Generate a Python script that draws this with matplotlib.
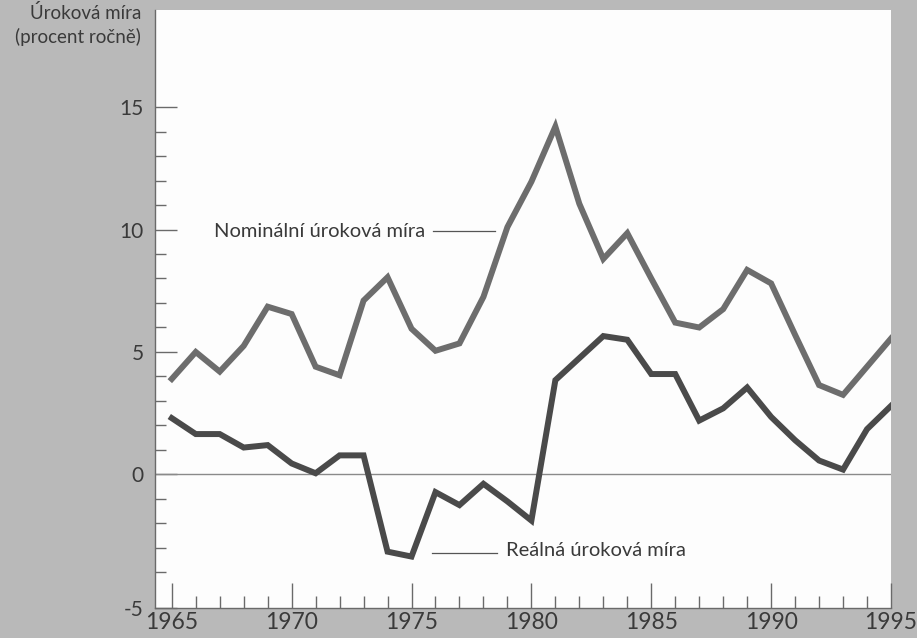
import numpy as np
import matplotlib
matplotlib.use('Agg')
import matplotlib.pyplot as plt
from matplotlib.ticker import MultipleLocator, FixedLocator

plt.rcParams['font.family'] = ['Lato', 'DejaVu Sans']

# roky a úrokové míry (procent ročně)
years = list(range(1965, 1996))
nominal = [3.9, 5.0, 4.2, 5.25, 6.85, 6.55, 4.4, 4.05, 7.1, 8.05,
           5.95, 5.05, 5.35, 7.25, 10.1, 11.95, 14.2, 11.05, 8.8, 9.85,
           8.0, 6.2, 6.0, 6.75, 8.35, 7.8, 5.7, 3.65, 3.25, 4.4, 5.55]
real = [2.3, 1.65, 1.65, 1.1, 1.2, 0.45, 0.05, 0.78, 0.78, -3.15,
        -3.35, -0.72, -1.25, -0.38, -1.1, -1.88, 3.85, 4.75, 5.65, 5.5,
        4.1, 4.1, 2.2, 2.7, 3.55, 2.35, 1.4, 0.57, 0.2, 1.85, 2.8]
ytick_vals = [0, 5, 10, 15]
ytick_labels = ['0', '5', '10', '15']
xtick_years = [1965, 1970, 1975, 1980, 1985, 1990, 1995]

BG = '#b9b9b9'
TXT = '#3a3a3a'
AX = '#6a6a6a'


def main():
    fig = plt.figure(figsize=(9.17, 6.38), dpi=100, facecolor=BG)
    ax = fig.add_axes([155 / 917, 1 - 608 / 638, 736 / 917, 598 / 638])
    ax.set_facecolor('#fdfdfd')

    x = np.array(years)
    ax.plot(x, nominal, color='#6d6d6d', lw=4.3, solid_joinstyle='miter', zorder=3)
    ax.plot(x, real, color='#4a4a4a', lw=4.3, solid_joinstyle='miter', zorder=3)
    ax.axhline(0, color='#8a8a8a', lw=1.0, zorder=2)

    ybot = -5.45
    ax.set_xlim(1964.3, 1995)
    ax.set_ylim(ybot, 18.96)

    for s in ['top', 'right']:
        ax.spines[s].set_visible(False)
    for s in ['left', 'bottom']:
        ax.spines[s].set_color(AX)
        ax.spines[s].set_linewidth(1.0)

    # osa y: spodní popisek -5 leží na ose x
    ax.yaxis.set_major_locator(FixedLocator([ybot] + ytick_vals))
    ax.set_yticklabels(['-5'] + ytick_labels)
    ax.yaxis.set_minor_locator(FixedLocator([v for v in range(-4, 15) if v % 5 != 0]))
    ax.xaxis.set_major_locator(FixedLocator(xtick_years))
    ax.xaxis.set_minor_locator(MultipleLocator(1))
    ax.set_xticklabels([str(y) for y in xtick_years])

    ax.tick_params(axis='y', which='major', direction='in', length=16, width=1,
                   color=AX, labelsize=15, labelcolor=TXT, pad=8)
    ax.tick_params(axis='y', which='minor', direction='in', length=8, width=1, color=AX)
    ax.tick_params(axis='x', which='major', direction='in', length=18, width=1,
                   color=AX, labelsize=16.5, labelcolor=TXT, pad=3)
    ax.tick_params(axis='x', which='minor', direction='in', length=9, width=1, color=AX)

    # popisky řad
    ax.text(1975.56, 9.9, 'Nominální úroková míra', ha='right', va='center',
            fontsize=14.5, color=TXT)
    ax.plot([1975.9, 1978.48], [9.95, 9.95], color='#555555', lw=0.9)
    ax.text(1978.94, -3.1, 'Reálná úroková míra', ha='left', va='center',
            fontsize=14.5, color=TXT)
    ax.plot([1975.86, 1978.57], [-3.2, -3.2], color='#555555', lw=0.9)

    fig.text(141 / 917, 1 - 4 / 638, 'Úroková míra\n(procent ročně)', ha='right',
             va='top', multialignment='right', fontsize=13.5, color=TXT,
             linespacing=1.4)

    fig.savefig('out.png', dpi=100, facecolor=BG)
    plt.close(fig)


if __name__ == '__main__':
    main()
